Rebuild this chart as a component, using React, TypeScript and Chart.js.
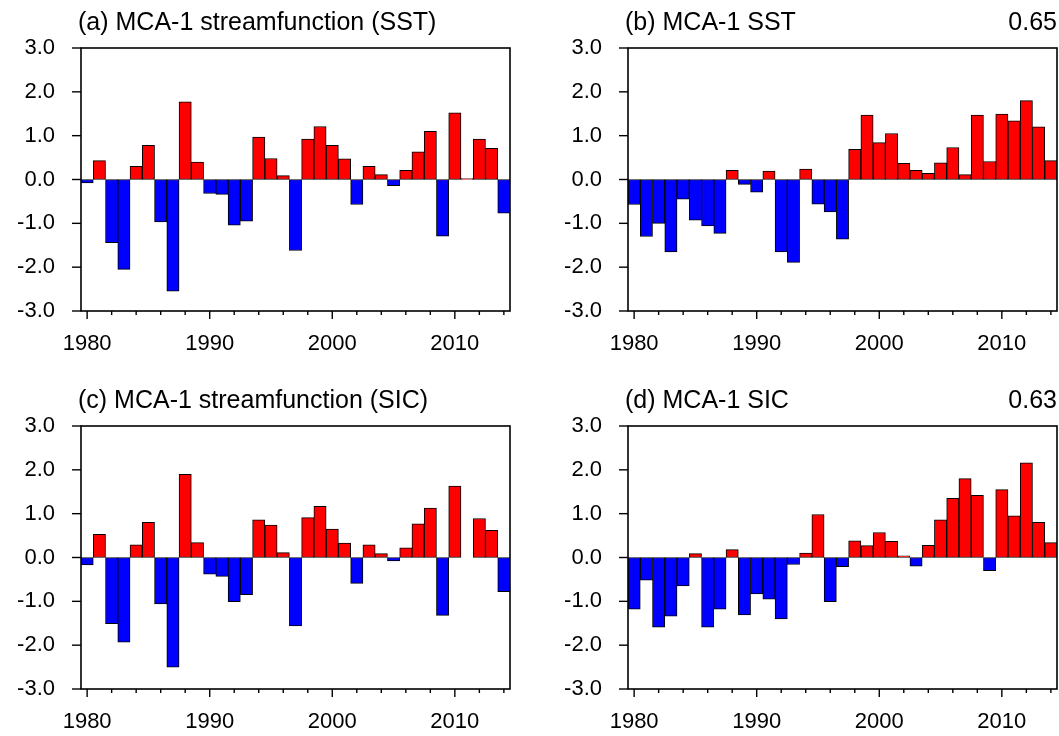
import React, { useEffect, useRef } from "react";
import { Chart, registerables } from "chart.js";

Chart.register(...registerables);

const years: string[] = [];
for (let y = 1980; y <= 2014; y++) years.push(String(y));

const streamSST = [
  -0.08, 0.43, -1.44, -2.05, 0.30, 0.78, -0.97, -2.55, 1.77, 0.40,
  -0.32, -0.34, -1.04, -0.95, 0.97, 0.48, 0.09, -1.62, 0.92, 1.21,
  0.78, 0.47, -0.57, 0.30, 0.11, -0.14, 0.21, 0.63, 1.10, -1.29,
  1.52, 0.02, 0.92, 0.71, -0.77,
];
const sstSeries = [
  -0.57, -1.30, -1.00, -1.65, -0.45, -0.93, -1.06, -1.23, 0.21, -0.11,
  -0.29, 0.19, -1.65, -1.89, 0.24, -0.56, -0.74, -1.36, 0.69, 1.47,
  0.84, 1.05, 0.37, 0.21, 0.14, 0.38, 0.73, 0.11, 1.47, 0.41,
  1.49, 1.34, 1.80, 1.20, 0.43,
];
const streamSIC = [
  -0.17, 0.53, -1.51, -1.93, 0.29, 0.80, -1.06, -2.50, 1.90, 0.34,
  -0.38, -0.43, -1.01, -0.85, 0.86, 0.74, 0.11, -1.56, 0.91, 1.17,
  0.65, 0.33, -0.59, 0.29, 0.09, -0.08, 0.22, 0.77, 1.13, -1.32,
  1.63, 0.0, 0.89, 0.62, -0.78,
];
const sicSeries = [
  -1.18, -0.52, -1.59, -1.34, -0.65, 0.09, -1.59, -1.18, 0.18, -1.31,
  -0.83, -0.95, -1.40, -0.16, 0.10, 0.98, -1.01, -0.21, 0.38, 0.27,
  0.57, 0.37, 0.04, -0.20, 0.28, 0.86, 1.35, 1.80, 1.42, -0.30,
  1.55, 0.95, 2.16, 0.80, 0.34,
];

const yTickValues = [-3, -2, -1, 0, 1, 2, 3];

const FONT = "'Liberation Sans', Arial, Helvetica, sans-serif";
const TICK_FONT_SIZE = 22;
const TITLE_FONT_SIZE = 25;

type PanelDef = {
  title: string;
  corr: string;
  data: number[];
  left: number;
  top: number;
  width: number;
  height: number;
  frameLeft: number;
  frameRight: number;
  frameTop: number;
  frameBottom: number;
};

const panels: PanelDef[] = [
  { title: "(a) MCA-1 streamfunction (SST)", corr: "", data: streamSST, left: 0, top: 0, width: 530, height: 368, frameLeft: 81, frameRight: 510, frameTop: 48, frameBottom: 311 },
  { title: "(b) MCA-1 SST", corr: "0.65", data: sstSeries, left: 530, top: 0, width: 529, height: 368, frameLeft: 628, frameRight: 1057, frameTop: 48, frameBottom: 311 },
  { title: "(c) MCA-1 streamfunction (SIC)", corr: "", data: streamSIC, left: 0, top: 368, width: 530, height: 368, frameLeft: 81, frameRight: 510, frameTop: 426, frameBottom: 689 },
  { title: "(d) MCA-1 SIC", corr: "0.63", data: sicSeries, left: 530, top: 368, width: 529, height: 368, frameLeft: 628, frameRight: 1057, frameTop: 426, frameBottom: 689 },
];

function Panel({ p }: { p: PanelDef }) {
  const ref = useRef<HTMLCanvasElement | null>(null);
  useEffect(() => {
    if (!ref.current) return;
    const yAxisW = p.frameLeft - p.left;
    const padTop = p.frameTop - p.top;
    const padRight = p.left + p.width - p.frameRight;
    const xAxisH = p.top + p.height - p.frameBottom;

    const decor = {
      id: "decor",
      afterDatasetsDraw(chart: any) {
        const { ctx, chartArea, scales } = chart;
        ctx.save();
        // frame
        ctx.strokeStyle = "#000";
        ctx.lineWidth = 1.6;
        ctx.strokeRect(chartArea.left, chartArea.top, chartArea.right - chartArea.left, chartArea.bottom - chartArea.top);
        // x tick marks (major every 10 years, minor every 2)
        ctx.lineWidth = 1.4;
        const xs = scales.x;
        years.forEach((yr, i) => {
          const n = Number(yr);
          if (n % 2 !== 0) return;
          const px = xs.getPixelForValue(i);
          const len = n % 10 === 0 ? 8 : 4;
          ctx.beginPath();
          ctx.moveTo(px, chartArea.bottom);
          ctx.lineTo(px, chartArea.bottom + len);
          ctx.stroke();
        });
        // y tick marks
        const ys = scales.y;
        yTickValues.forEach((v) => {
          const py = ys.getPixelForValue(v);
          ctx.beginPath();
          ctx.moveTo(chartArea.left - 9, py);
          ctx.lineTo(chartArea.left, py);
          ctx.stroke();
        });
        // titles
        ctx.fillStyle = "#000";
        ctx.font = `${TITLE_FONT_SIZE}px ${FONT}`;
        ctx.textBaseline = "alphabetic";
        ctx.textAlign = "left";
        ctx.fillText(p.title, chartArea.left - 3, chartArea.top - 18);
        if (p.corr) {
          ctx.textAlign = "right";
          ctx.fillText(p.corr, chartArea.right, chartArea.top - 18);
        }
        ctx.restore();
      },
    };

    const chart = new Chart(ref.current, {
      type: "bar",
      data: {
        labels: years,
        datasets: [
          {
            data: p.data,
            backgroundColor: (c: any) => ((c.raw as number) >= 0 ? "#ff0000" : "#0000ff"),
            borderColor: "#000",
            borderWidth: 1,
            borderSkipped: false,
            barPercentage: 1,
            categoryPercentage: 1,
          },
        ],
      },
      options: {
        animation: false,
        responsive: false,
        maintainAspectRatio: false,
        layout: { padding: { left: 0, right: padRight, top: padTop, bottom: 0 } },
        plugins: { legend: { display: false }, title: { display: false }, tooltip: { enabled: false } },
        scales: {
          x: {
            type: "category",
            offset: true,
            grid: { display: false, drawTicks: false },
            border: { display: false },
            ticks: {
              autoSkip: false,
              maxRotation: 0,
              minRotation: 0,
              padding: 20,
              color: "#000",
              font: { family: FONT, size: TICK_FONT_SIZE },
              callback: (_v: any, i: number) => (Number(years[i]) % 10 === 0 ? years[i] : ""),
            },
            afterFit: (s: any) => {
              s.height = xAxisH;
              s.paddingLeft = 0;
              s.paddingRight = 0;
            },
          },
          y: {
            min: -3,
            max: 3,
            afterBuildTicks: (s: any) => {
              s.ticks = yTickValues.map((v) => ({ value: v }));
            },
            grid: { display: false, drawTicks: false },
            border: { display: false },
            ticks: {
              padding: 26,
              color: "#000",
              font: { family: FONT, size: TICK_FONT_SIZE },
              callback: (v: any) => Number(v).toFixed(1),
            },
            afterFit: (s: any) => {
              s.width = yAxisW;
              s.paddingTop = 0;
              s.paddingBottom = 0;
            },
          },
        },
      },
      plugins: [decor],
    } as any);
    return () => chart.destroy();
  }, [p]);
  return (
    <div style={{ position: "absolute", left: p.left, top: p.top, width: p.width, height: p.height }}>
      <canvas ref={ref} width={p.width} height={p.height} style={{ width: p.width, height: p.height, display: "block" }} />
    </div>
  );
}

export default function App() {
  return (
    <div style={{ position: "fixed", left: 0, top: 0, width: 1059, height: 736, background: "#fff" }}>
      {panels.map((p) => (
        <Panel key={p.title} p={p} />
      ))}
    </div>
  );
}
